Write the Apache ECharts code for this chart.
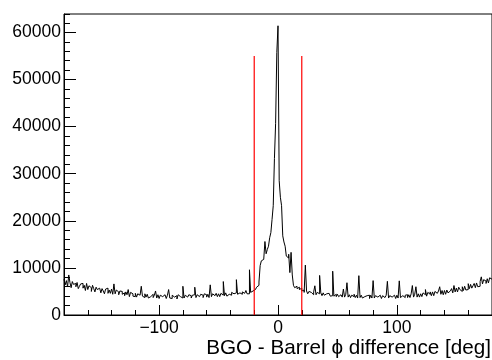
<!DOCTYPE html>
<html><head><meta charset="utf-8">
<script src="https://cdn.jsdelivr.net/npm/echarts@6/dist/echarts.min.js"></script>
<style>html,body{margin:0;padding:0;background:#fff}#c{width:492px;height:360px}</style>
</head><body><div id="c"></div>
<script>
// Histogram: 1-degree bins from -180 to 180
const xMin = -180, xMax = 180, binWidth = 1;
const counts = [
  7600, 6400, 7300, 6000, 8500, 6900, 5800, 7100, 6500, 6700,
  6000, 6900, 5600, 6100, 6600, 6700, 5700, 6300, 5200, 6700,
  5400, 6200, 5800, 5000, 6300, 5600, 4900, 5900, 5400, 5700,
  6000, 4700, 5600, 5100, 4500, 5500, 5700, 4600, 5300, 4600,
  5500, 4400, 6600, 4500, 5300, 4900, 4300, 5100, 5000, 4400,
  4700, 4100, 4900, 4300, 5400, 3900, 4800, 4500, 4000, 3900,
  4600, 3800, 4500, 4200, 3800, 6100, 4000, 3700, 4500, 3800,
  4400, 3600, 3900, 4300, 4400, 3700, 4200, 5100, 3600, 4300,
  3500, 4200, 3900, 3600, 4300, 4100, 3500, 4200, 5400, 3600,
  3500, 4200, 3800, 3500, 4100, 3400, 4300, 3900, 3500, 3600,
  6100, 3600, 4200, 3800, 3500, 4300, 4100, 3600, 4200, 4300,
  5900, 3700, 4300, 3900, 3600, 4400, 4200, 3700, 4500, 4300,
  3800, 4400, 3700, 6400, 3900, 4500, 4100, 3800, 4600, 3900,
  4500, 3900, 4600, 4200, 7100, 4100, 4700, 4000, 4400, 4800,
  4200, 4800, 4500, 4100, 4700, 7500, 4400, 4700, 5000, 4400,
  4900, 4600, 4800, 5200, 4500, 4500, 9600, 4800, 5100, 5000,
  5400, 5700, 5900, 6300, 7000, 10500, 11500, 11800, 12000, 15600,
  13000, 13900, 14600, 16400, 17500, 20300, 23200, 33200, 40700, 55700,
  61400, 28500, 25000, 23200, 16800, 15500, 14600, 12500, 12100, 12900,
  9000, 13300, 8500, 6300, 5800, 6100, 5600, 5900, 5400, 5700,
  5100, 5300, 4800, 10600, 5100, 4500, 5000, 4800, 4400, 4300,
  4900, 6200, 4300, 4800, 4500, 8400, 4700, 4100, 4700, 4200,
  4500, 4100, 4600, 4300, 4000, 4100, 9300, 4000, 4400, 3900,
  4400, 3900, 4300, 4100, 3800, 5500, 3800, 4400, 6850, 3800,
  4300, 3700, 4200, 3900, 4400, 3700, 4200, 3600, 8350, 3700,
  4200, 3600, 3900, 4300, 4100, 3700, 4200, 3500, 4200, 3600,
  7300, 3600, 4100, 3800, 3500, 4200, 4000, 3500, 4100, 3700,
  3600, 4200, 7150, 3600, 4100, 3800, 3500, 4200, 4100, 3500,
  4200, 3600, 7250, 3700, 4100, 3900, 3700, 4200, 4300, 3700,
  4300, 3700, 4500, 6250, 3800, 4400, 6000, 3800, 4500, 3800,
  4500, 3900, 4700, 4300, 5400, 4000, 4800, 4400, 4900, 4100,
  4900, 4100, 5000, 4600, 4200, 5100, 6000, 4400, 5200, 4300,
  5200, 4400, 5300, 4700, 5100, 4800, 5600, 4700, 6250, 4900,
  5700, 4900, 5900, 5400, 5000, 6000, 5200, 6100, 5300, 5400,
  6650, 5600, 6500, 5700, 6200, 6700, 5800, 6800, 6000, 6100,
  7100, 8100, 6600, 7500, 7200, 6700, 7700, 6800, 7900, 7600
];
const cutPositions = [-20, 20];
const cutHeight = 55000;
const yMax = 63900;
const yMajorTicks = [0, 10000, 20000, 30000, 40000, 50000, 60000];
const xMajorTicks = [-100, 0, 100];
const xTitle = 'BGO - Barrel \u03D5 difference [deg]';

// step outline: each bin contributes its left and right edge at its count
const histPts = [];
counts.forEach((v, i) => {
  const lo = xMin + i * binWidth;
  histPts.push([lo, v], [lo + binWidth, v]);
});

const FONT = '"Liberation Sans", Helvetica, Arial, sans-serif';
const fmt = v => (v < 0 ? '\u2212' + Math.abs(v) : String(v));

const chart = echarts.init(document.getElementById('c'), null, {renderer: 'canvas'});
chart.setOption({
  animation: false,
  backgroundColor: '#fff',
  grid: {left: 64, top: 14, width: 429.5, height: 301, show: true, borderColor: '#000', borderWidth: 1, backgroundColor: 'transparent'},
  xAxis: [
    {type: 'value', min: xMin, max: xMax, interval: 20,
     axisLine: {show: true, onZero: false, lineStyle: {color: '#000', width: 1}},
     axisTick: {show: true, inside: true, length: 5, lineStyle: {color: '#000'}},
     axisLabel: {show: false}, splitLine: {show: false}},
    {type: 'value', min: xMin, max: xMax, position: 'bottom',
     axisLine: {show: false, onZero: false},
     axisTick: {show: true, inside: true, length: 10, customValues: xMajorTicks, lineStyle: {color: '#000'}},
     axisLabel: {show: true, customValues: xMajorTicks, formatter: fmt, fontSize: 17.5, fontFamily: FONT, color: '#000', margin: 4},
     splitLine: {show: false}}
  ],
  yAxis: [
    {type: 'value', min: 0, max: yMax, interval: 2000,
     axisLine: {show: true, onZero: false, lineStyle: {color: '#000', width: 1}},
     axisTick: {show: true, inside: true, length: 6, lineStyle: {color: '#000'}},
     axisLabel: {show: false}, splitLine: {show: false}},
    {type: 'value', min: 0, max: yMax, position: 'left',
     axisLine: {show: false, onZero: false},
     axisTick: {show: true, inside: true, length: 12, customValues: yMajorTicks, lineStyle: {color: '#000'}},
     axisLabel: {show: true, customValues: yMajorTicks, formatter: fmt, fontSize: 17.5, fontFamily: FONT, color: '#000', margin: 3},
     splitLine: {show: false}}
  ],
  series: [
    {type: 'line', xAxisIndex: 0, yAxisIndex: 0, data: histPts, symbol: 'none', sampling: null,
     lineStyle: {color: '#000', width: 1}, z: 2},
    ...cutPositions.map(c => ({type: 'line', xAxisIndex: 0, yAxisIndex: 0, data: [[c, 0], [c, cutHeight]], symbol: 'none',
     lineStyle: {color: '#ff0000', width: 1.2}, z: 3}))
  ],
  graphic: [
    {type: 'text', right: 1, top: 338, style: {text: xTitle, font: '20.7px ' + FONT, fill: '#000'}}
  ]
});
</script></body></html>
